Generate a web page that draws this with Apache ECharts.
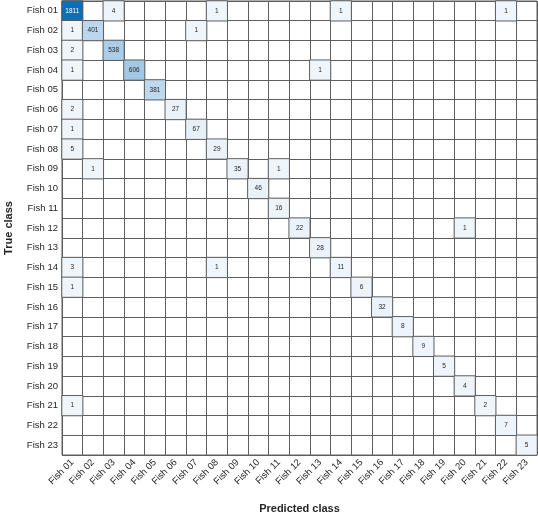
<!DOCTYPE html>
<html><head><meta charset="utf-8">
<script src="https://cdn.jsdelivr.net/npm/echarts@6/dist/echarts.min.js"></script>
<style>html,body{margin:0;padding:0;background:#fff}#c{width:538px;height:515px}</style>
</head><body><div id="c"></div>
<script>
var classes = ['Fish 01','Fish 02','Fish 03','Fish 04','Fish 05','Fish 06','Fish 07','Fish 08','Fish 09','Fish 10','Fish 11','Fish 12','Fish 13','Fish 14','Fish 15','Fish 16','Fish 17','Fish 18','Fish 19','Fish 20','Fish 21','Fish 22','Fish 23'];
// non-zero cells: true class index, predicted class index, count
var trueIdx = [0,0,0,0,0, 1,1,1, 2,2, 3,3,3, 4, 5,5, 6,6, 7,7, 8,8,8, 9, 10, 11,11, 12, 13,13,13, 14,14, 15, 16, 17, 18, 19, 20,20, 21, 22];
var predIdx = [0,2,7,13,21, 0,1,6, 0,2, 0,3,12, 4, 0,5, 0,6, 0,7, 1,8,10, 9, 10, 11,19, 12, 0,7,13, 0,14, 15, 16, 17, 18, 19, 0,20, 21, 22];
var counts  = [1811,4,1,1,1, 1,401,1, 2,538, 1,606,1, 381, 2,27, 1,67, 5,29, 1,35,1, 46, 16, 22,1, 28, 3,1,11, 1,6, 32, 8, 9, 5, 4, 1,2, 7, 5];

var maxVal = Math.max.apply(null, counts);
var data = counts.map(function(v, i){
  return {value:[predIdx[i], trueIdx[i], v], label:{color: v > maxVal*0.5 ? '#ffffff' : '#262626'}};
});
var lineColor = '#5e5e5e';
var font = 'Liberation Sans, Arial, Helvetica, sans-serif';
var chart = echarts.init(document.getElementById('c'), null, {renderer:'canvas'});
chart.setOption({
  animation:false,
  backgroundColor:'#ffffff',
  grid:{left:62, top:1, right:1, bottom:60, containLabel:false, outerBoundsMode:'none', show:true, borderColor:lineColor, borderWidth:1, backgroundColor:'transparent'},
  xAxis:{type:'category', data:classes, boundaryGap:true,
    name:'Predicted class', nameLocation:'middle', nameGap:48,
    nameTextStyle:{fontFamily:font, fontWeight:'bold', fontSize:11, color:'#262626'},
    axisLine:{show:false}, axisTick:{show:false},
    axisLabel:{interval:0, rotate:45, fontFamily:font, fontSize:9.5, color:'#262626', margin:6},
    splitLine:{show:true, interval:0, lineStyle:{color:lineColor, width:1}}},
  yAxis:{type:'category', data:classes, inverse:true, boundaryGap:true,
    name:'True class', nameLocation:'middle', nameGap:48, nameRotate:90,
    nameTextStyle:{fontFamily:font, fontWeight:'bold', fontSize:11, color:'#262626'},
    axisLine:{show:false}, axisTick:{show:false},
    axisLabel:{interval:0, fontFamily:font, fontSize:9.5, color:'#262626', margin:4},
    splitLine:{show:true, interval:0, lineStyle:{color:lineColor, width:1}}},
  visualMap:{show:false, min:0, max:maxVal, dimension:2, inRange:{color:['#eef5fb','#0b6fba']}},
  series:[{type:'heatmap', data:data,
    itemStyle:{borderColor:lineColor, borderWidth:1},
    label:{show:true, fontFamily:font, fontSize:6.5}}]
});
</script></body></html>
